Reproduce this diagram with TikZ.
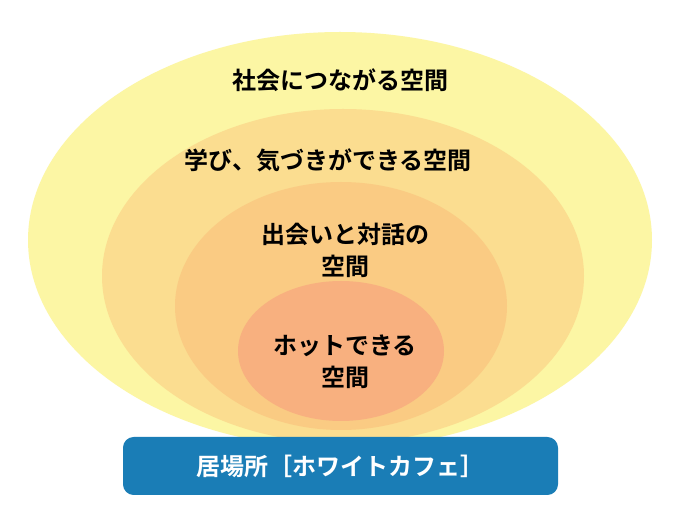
\documentclass[tikz,border=0pt]{standalone}
\usepackage{fontspec}
\newfontfamily\jpfont{Noto Sans CJK JP}[BoldFont={Noto Sans CJK JP Bold}]
\definecolor{ringa}{HTML}{FCF6A4}
\definecolor{ringb}{HTML}{FBDD90}
\definecolor{ringc}{HTML}{FACB83}
\definecolor{ringd}{HTML}{F8B07F}
\definecolor{barblue}{HTML}{1A7DB6}
\tikzset{
    ring/.style={draw=none},
    label/.style={font=\jpfont\bfseries\fontsize{18}{24}\selectfont, align=center, text=black},
    basebar/.style={fill=barblue, rounded corners=8pt, text=white, font=\jpfont\bfseries\fontsize{18}{22}\selectfont}
}
\begin{document}
\begin{tikzpicture}[x=0.75pt,y=-0.75pt]
    \useasboundingbox (0,0) rectangle (690,520);
    \fill[white] (0,0) rectangle (690,520);
    % rings, outside in
    \fill[ringa] (340,240) ellipse [x radius=312, y radius=208];
    \fill[ringb] (343,276) ellipse [x radius=241, y radius=167];
    \fill[ringc] (341,306) ellipse [x radius=166, y radius=124];
    \fill[ringd] (341,351) ellipse [x radius=103, y radius=70];
    % labels
    \node[label] (society) at (340,80) {社会につながる空間};
    \node[label] (learning) at (328,160) {学び、気づきができる空間};
    \node[label] (meeting) at (345,250) {出会いと対話の\\空間};
    \node[label] (relax) at (345,362) {ホットできる\\空間};
    % base
    \fill[basebar] (123,437) rectangle (558,495);
    \node[basebar, fill=none] (place) at (340,466) {居場所［ホワイトカフェ］};
\end{tikzpicture}
\end{document}
